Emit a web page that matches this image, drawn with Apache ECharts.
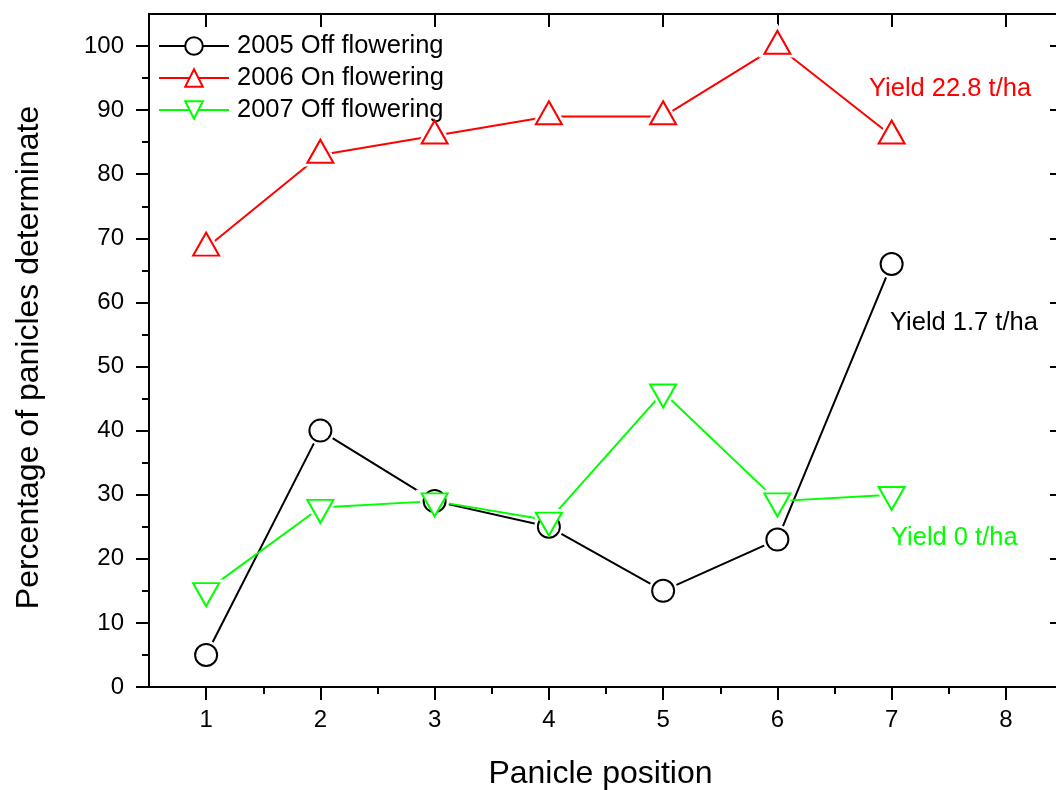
<!DOCTYPE html>
<html>
<head>
<meta charset="utf-8">
<script src="https://cdn.jsdelivr.net/npm/echarts@6/dist/echarts.min.js"></script>
<style>
  html, body { margin: 0; padding: 0; background: #fff; }
  #chart { width: 1056px; height: 790px; }
</style>
</head>
<body>
<div id="chart"></div>
<script>
// panicle positions
const positions = [1, 2, 3, 4, 5, 6, 7];
// percentage of panicles determinate
const off2005 = [5, 40, 29, 25, 15, 23, 66];
const on2006 = [68.5, 83, 86, 89, 89, 100, 86];
const off2007 = [15, 28, 29, 26, 46, 29, 30];

const seriesNames = ['2005 Off flowering', '2006 On flowering', '2007 Off flowering'];
const yieldNotes = ['Yield 1.7 t/ha', 'Yield 22.8 t/ha', 'Yield 0 t/ha'];

// tick labels
const xTicks = [1, 2, 3, 4, 5, 6, 7, 8];
const xMinorTicks = [1.5, 2.5, 3.5, 4.5, 5.5, 6.5, 7.5];
const yTicks = [0, 10, 20, 30, 40, 50, 60, 70, 80, 90, 100];
const yMinorTicks = [5, 15, 25, 35, 45, 55, 65, 75, 85, 95];

const FONT = '"Liberation Sans", Arial, Helvetica, sans-serif';
const X_MIN = 0.5, X_MAX = 8.5, Y_MIN = 0, Y_MAX = 105;
const UP = 'path://M1,0L2,2L0,2Z';
const DOWN = 'path://M0,0L2,0L1,2Z';

function pairs(vals) {
  return positions.map((p, i) => [p, vals[i]]);
}

// one axis per tick set (major/minor, outside/inside)
function xAx(pos, ticks, len, inside, extra) {
  return Object.assign({
    type: 'value', position: pos, min: X_MIN, max: X_MAX,
    axisLine: { show: false },
    axisTick: { show: true, inside: inside, length: len, customValues: ticks,
      lineStyle: { color: '#000', width: 2 } },
    axisLabel: { show: false },
    splitLine: { show: false }
  }, extra || {});
}
function yAx(pos, ticks, len, inside, extra) {
  return Object.assign({
    type: 'value', position: pos, min: Y_MIN, max: Y_MAX,
    axisLine: { show: false },
    axisTick: { show: true, inside: inside, length: len, customValues: ticks,
      lineStyle: { color: '#000', width: 2 } },
    axisLabel: { show: false },
    splitLine: { show: false }
  }, extra || {});
}

// line + white halo (gap round the marker) + hollow marker
function group(name, vals, color, symbol, size, offset, haloSize, haloOffset, z) {
  return [
    {
      name: name, type: 'line', data: pairs(vals),
      symbol: symbol, showSymbol: false,
      lineStyle: { color: color, width: 2 },
      itemStyle: { color: '#fff', borderColor: color, borderWidth: 2 },
      z: 2
    },
    {
      type: 'scatter', data: pairs(vals), silent: true,
      symbol: symbol, symbolSize: haloSize, symbolOffset: haloOffset,
      itemStyle: { color: '#fff', opacity: 1 },
      z: 3
    },
    {
      type: 'scatter', data: pairs(vals), silent: true,
      symbol: symbol, symbolSize: size, symbolOffset: offset,
      itemStyle: { color: '#fff', borderColor: color, borderWidth: 2, opacity: 1 },
      z: z
    }
  ];
}

const myChart = echarts.init(document.getElementById('chart'));

myChart.setOption({
  backgroundColor: '#fff',
  animation: false,
  grid: { left: 149, top: 14, right: -7, bottom: 103, containLabel: false, outerBoundsMode: 'none' },
  legend: {
    orient: 'vertical',
    left: 153,
    top: 28,
    itemWidth: 70,
    itemHeight: 22,
    itemGap: 6,
    data: seriesNames,
    textStyle: { fontFamily: FONT, fontSize: 25.5, lineHeight: 25, color: '#000', padding: [0, 0, 0, 3] }
  },
  xAxis: [
    xAx('bottom', xTicks, 13, false, {
      name: 'Panicle position',
      nameLocation: 'middle',
      nameGap: 71,
      nameTextStyle: { fontFamily: FONT, fontSize: 32, color: '#000', padding: [0, 11, 0, 0] },
      axisLine: { show: true, onZero: false, lineStyle: { color: '#000', width: 2 } },
      axisLabel: { show: true, customValues: xTicks, margin: 21,
        fontFamily: FONT, fontSize: 24, color: '#000' }
    }),
    xAx('bottom', xMinorTicks, 7, false),
    xAx('top', xTicks, 13, true, {
      axisLine: { show: true, onZero: false, lineStyle: { color: '#000', width: 2 } }
    }),
    xAx('top', xMinorTicks, 7, true)
  ],
  yAxis: [
    yAx('left', yTicks, 13, false, {
      name: 'Percentage of panicles determinate',
      nameLocation: 'middle',
      nameGap: 104,
      nameTextStyle: { fontFamily: FONT, fontSize: 32, color: '#000', padding: [0, 14, 0, 0] },
      axisLine: { show: true, onZero: false, lineStyle: { color: '#000', width: 2 } },
      axisLabel: { show: true, customValues: yTicks, margin: 25,
        fontFamily: FONT, fontSize: 24, color: '#000' }
    }),
    yAx('left', yMinorTicks, 7, false),
    yAx('right', yTicks, 13, true, {
      axisLine: { show: true, onZero: false, lineStyle: { color: '#000', width: 2 } }
    }),
    yAx('right', yMinorTicks, 7, true)
  ],
  series: [].concat(
    group(seriesNames[0], off2005, '#000', 'circle', 22, [0, 0], 29, [0, 0], 5),
    group(seriesNames[1], on2006, '#ff0000', UP, [26, 23], [0, -3.8], [38, 34], [0, -5.6], 4),
    group(seriesNames[2], off2007, '#00ff00', DOWN, [26, 23], [0, 3.8], [38, 34], [0, 5.6], 6)
  ),
  graphic: [
    { type: 'text', left: 869, top: 76,
      style: { text: yieldNotes[1], fill: '#ff0000', font: '25.5px ' + FONT } },
    { type: 'text', left: 890, top: 310,
      style: { text: yieldNotes[0], fill: '#000', font: '25.5px ' + FONT } },
    { type: 'text', left: 891, top: 525,
      style: { text: yieldNotes[2], fill: '#00ff00', font: '25.5px ' + FONT } }
  ]
});
window.addEventListener('resize', function () { myChart.resize(); });
</script>
</body>
</html>
